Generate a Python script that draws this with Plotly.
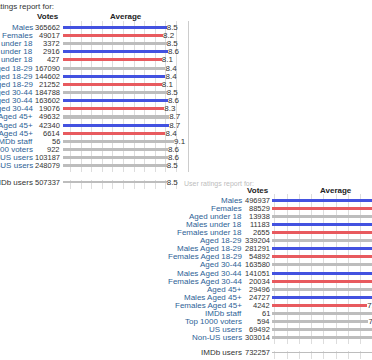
import plotly.graph_objects as go

# ---------------- data ----------------
top_labels = ["Males", "Females", "Aged under 18", "Males under 18", "Females under 18",
              "Aged 18-29", "Males Aged 18-29", "Females Aged 18-29",
              "Aged 30-44", "Males Aged 30-44", "Females Aged 30-44",
              "Aged 45+", "Males Aged 45+", "Females Aged 45+",
              "IMDb staff", "Top 1000 voters", "US users", "Non-US users"]
top_votes = [365662, 49017, 3372, 2916, 427, 167090, 144602, 21252, 184788, 163602,
             19076, 49632, 42340, 6614, 56, 922, 103187, 248079]
top_avg = [8.5, 8.2, 8.5, 8.6, 8.1, 8.4, 8.4, 8.1, 8.5, 8.6, 8.3, 8.7, 8.7, 8.4,
           9.1, 8.6, 8.6, 8.5]
top_total_label = ["IMDb users"]
top_total_votes = [507337]
top_total_avg = [8.5]

bot_labels = list(top_labels)
bot_votes = [496937, 88529, 13938, 11183, 2655, 339204, 281291, 54892, 163580, 141051,
             20034, 29496, 24727, 4242, 61, 594, 69492, 303014]
bot_avg = [8.4, 8.2, 8.5, 8.5, 8.3, 8.4, 8.5, 8.2, 8.3, 8.3, 8.2, 8.2, 8.2, 7.8,
           8.3, 7.9, 8.3, 8.3]
bot_total_label = ["IMDb users"]
bot_total_votes = [732257]
bot_total_avg = [8.3]

# ---------------- style ----------------
W, H = 372, 360
FONT = "Liberation Sans, Arial, sans-serif"
BLUE = "#4352e0"
RED = "#e85a5e"
GREY = "#bdbdbd"
LINK = "#2e5f96"
TXT = "#333333"
GRID = "#dddddd"
PXU = 12.2  # pixels per rating unit


def px(x):
    return x / W


def py(y):
    return 1 - y / H


def bar_color(label):
    if label.startswith("Males"):
        return BLUE
    if label.startswith("Females"):
        return RED
    return GREY


fig = go.Figure()

# panels: (labels, votes, avg, axis suffix, bar start px, y top px, y bottom px,
#          label right px, grid tick0, grid dtick, label colour)
panels = [
    (top_labels, top_votes, top_avg, "", 63, 20.8, 172.4, 35, 0.615, 0.869, LINK),
    (top_total_label, top_total_votes, top_total_avg, "2", 63, 180.3, 188.7, 35, 0.615, 0.869, TXT),
    (bot_labels, bot_votes, bot_avg, "3", 272, 193.8, 344.2, 243.5, 0.225, 1.007, LINK),
    (bot_total_label, bot_total_votes, bot_total_avg, "4", 272, 350.8, 359.2, 243.5, 0.225, 1.007, TXT),
]

annotations = []
layout_axes = {}
for labels, votes, avg, sfx, x0, ytop, ybot, lab_r, t0, dt, lcol in panels:
    xa = "x" + sfx
    ya = "y" + sfx
    fig.add_trace(go.Bar(
        x=avg, y=labels, orientation="h",
        xaxis=xa, yaxis=ya,
        marker=dict(color=[bar_color(l) for l in labels], line=dict(width=0)),
        width=0.38,
        text=[f"{v:.1f}" for v in avg], textposition="outside",
        constraintext="none", cliponaxis=False,
        textfont=dict(family=FONT, size=8, color=TXT),
        hoverinfo="skip", showlegend=False,
    ))
    x1 = min(x0 + 125, W)
    layout_axes["xaxis" + sfx] = dict(
        domain=[px(x0), px(x1)], range=[0, (x1 - x0) / PXU], anchor=ya,
        showticklabels=False, ticks="", zeroline=False,
        showgrid=True, gridcolor=GRID, gridwidth=1, tick0=t0, dtick=dt,
        fixedrange=True,
    )
    layout_axes["yaxis" + sfx] = dict(
        domain=[py(ybot), py(ytop)], anchor=xa, type="category",
        categoryarray=labels, categoryorder="array", autorange="reversed",
        showticklabels=False, ticks="", showgrid=False, zeroline=False,
        showline=(sfx == ""), linecolor="#cccccc", linewidth=1, side="right",
        fixedrange=True,
    )
    for lab, v in zip(labels, votes):
        annotations.append(dict(
            x=px(lab_r), xref="paper", y=lab, yref=ya, xanchor="right", yanchor="middle",
            text=lab, showarrow=False, font=dict(family=FONT, size=8, color=lcol)))
        annotations.append(dict(
            x=px(x0 - 0.5), xref="paper", y=lab, yref=ya, xanchor="right", yanchor="middle",
            text=str(v), showarrow=False, font=dict(family=FONT, size=7.5, color=TXT)))

# headers and titles
headers = [
    ("Ratings report for:", 56, 6, "right", TXT, False, 8),
    ("Votes", 61, 16.5, "right", "#222222", True, 8),
    ("Average", 126, 16.5, "center", "#222222", True, 8),
    ("User ratings report for:", 182, 184, "left", "#bdbdbd", False, 7),
    ("Votes", 270.5, 190, "right", "#222222", True, 8),
    ("Average", 336, 190, "center", "#222222", True, 8),
]
for txt, hx, hy, anc, col, bold, fs in headers:
    annotations.append(dict(
        x=px(hx), xref="paper", y=py(hy), yref="paper", xanchor=anc, yanchor="middle",
        text=f"<b>{txt}</b>" if bold else txt, showarrow=False,
        font=dict(family=FONT, size=fs, color=col)))

fig.update_layout(
    width=W, height=H, autosize=False,
    margin=dict(l=0, r=0, t=0, b=0),
    paper_bgcolor="white", plot_bgcolor="white",
    annotations=annotations, bargap=0,
    **layout_axes,
)

fig.write_html("out.html", config={"displayModeBar": False, "staticPlot": True},
               post_script="document.body.style.margin='0';")
